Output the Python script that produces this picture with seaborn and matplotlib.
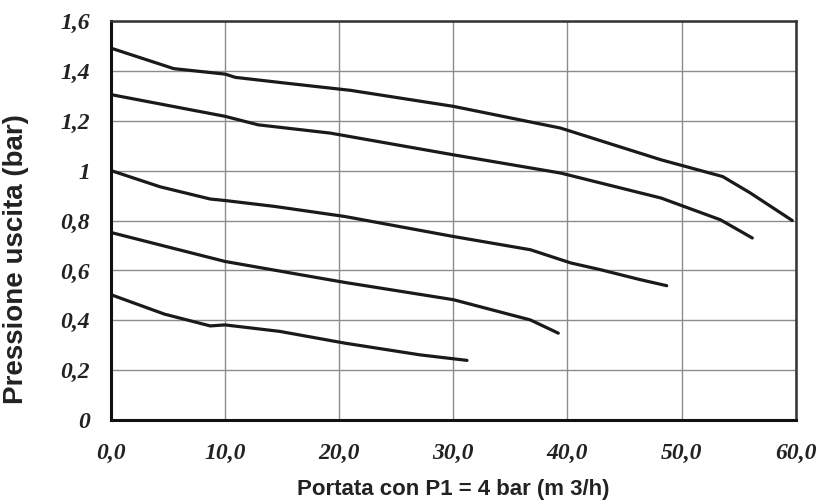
import pandas as pd
import matplotlib
matplotlib.use("Agg")
import matplotlib.pyplot as plt
import seaborn as sns

# curves (portata m3/h, pressione bar)
x1 = [0, 5.5, 10, 10.9, 15.3, 21, 30, 39.4, 48.2, 53.6, 56, 59.7]
y1 = [1.49, 1.408, 1.386, 1.373, 1.35, 1.321, 1.257, 1.17, 1.043, 0.976, 0.911, 0.80]

x2 = [0, 10, 12.9, 19.2, 30, 39.4, 48.2, 53.4, 56.2]
y2 = [1.304, 1.217, 1.183, 1.15, 1.063, 0.99, 0.89, 0.803, 0.73]

x3 = [0, 4.3, 8.7, 10, 14.4, 20.5, 30, 36.75, 40.3, 42.9, 46.4, 48.7]
y3 = [1.0, 0.935, 0.886, 0.88, 0.856, 0.816, 0.736, 0.683, 0.63, 0.603, 0.563, 0.539]

x4 = [0, 10, 16.6, 20.5, 30, 36.75, 39.2]
y4 = [0.752, 0.636, 0.583, 0.552, 0.483, 0.402, 0.349]

x5 = [0, 4.7, 8.7, 10, 14.8, 20.5, 27.1, 31.2]
y5 = [0.503, 0.425, 0.378, 0.382, 0.356, 0.309, 0.262, 0.24]

x_ticks = [0, 10, 20, 30, 40, 50, 60]
x_labels = ["0,0", "10,0", "20,0", "30,0", "40,0", "50,0", "60,0"]
y_ticks = [0, 0.2, 0.4, 0.6, 0.8, 1.0, 1.2, 1.4, 1.6]
y_labels = ["0", "0,2", "0,4", "0,6", "0,8", "1", "1,2", "1,4", "1,6"]

sns.set_style("white")

fig = plt.figure(figsize=(8.19, 5.04), dpi=100)
ax = fig.add_axes([0.1355, 0.166, 0.836, 0.793])

for xs, ys in [(x1, y1), (x2, y2), (x3, y3), (x4, y4), (x5, y5)]:
    df = pd.DataFrame({"q": xs, "p": ys})
    sns.lineplot(data=df, x="q", y="p", ax=ax, color="#1a1a1a", linewidth=2.3,
                 sort=False, solid_capstyle="round")

ax.set_xlim(0, 60)
ax.set_ylim(0, 1.6)
ax.set_xticks(x_ticks)
ax.set_yticks(y_ticks)
tick_font = dict(fontfamily="Liberation Serif", fontweight="bold",
                 fontstyle="italic", fontsize=17, color="#222222")
ax.set_xticklabels(x_labels, **tick_font)
ax.set_yticklabels(y_labels, **tick_font)
ax.tick_params(axis="both", direction="out", length=5, width=1, color="#888888")
ax.tick_params(axis="x", pad=11)
ax.tick_params(axis="y", pad=10)

ax.grid(True, color="#8c8c8c", linewidth=1)
ax.set_axisbelow(True)
for side in ["left", "bottom"]:
    ax.spines[side].set_color("#111111")
    ax.spines[side].set_linewidth(2.2)
for side in ["top", "right"]:
    ax.spines[side].set_color("#333333")
    ax.spines[side].set_linewidth(1.8)

ax.set_xlabel("Portata con P1 = 4 bar (m 3/h)", fontfamily="Liberation Sans",
              fontweight="bold", fontsize=16, color="#222222")
ax.set_ylabel("Pressione uscita (bar)", fontfamily="Liberation Sans",
              fontweight="bold", fontsize=20, color="#222222")
ax.xaxis.set_label_coords(0.5, -0.148)
ax.yaxis.set_label_coords(-0.12, 0.404)

fig.savefig("out.png", dpi=100, facecolor="white")
